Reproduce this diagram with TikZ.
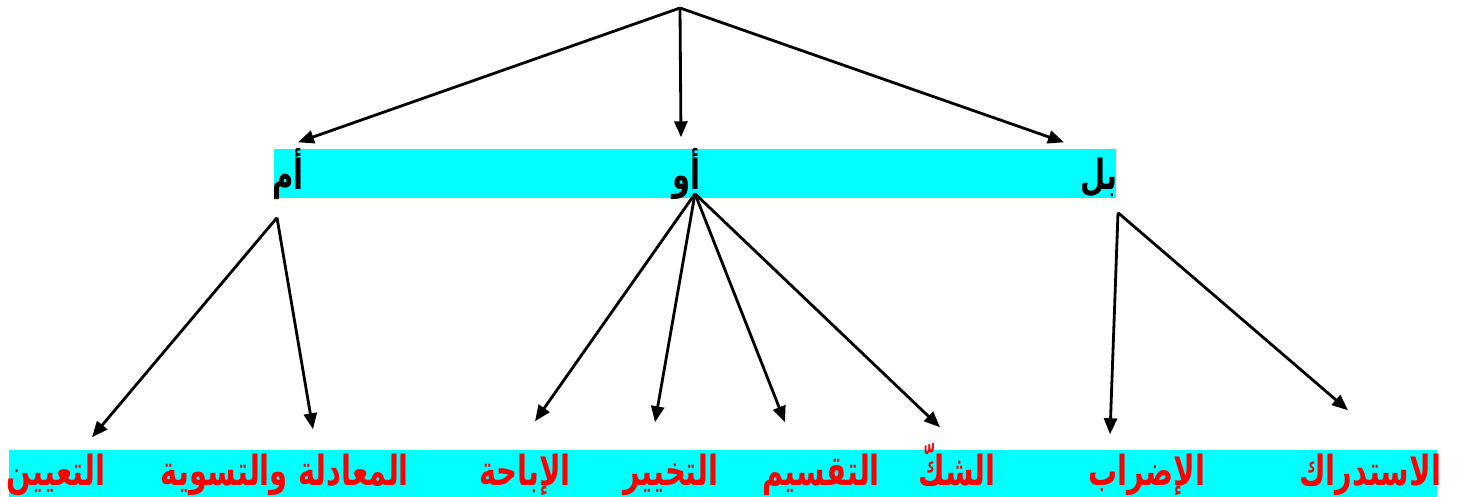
\documentclass[tikz,border=0pt]{standalone}
\usepackage{fontspec}
\newfontfamily\arabicfont[Script=Arabic, FakeStretch=0.70]{DejaVu Sans}
\TeXXeTstate=1
\usetikzlibrary{arrows.meta, positioning}
\definecolor{pita}{RGB}{0,255,255}
\definecolor{merah}{RGB}{255,0,0}

\begin{document}
\begin{tikzpicture}[
    bar/.style    = {fill=pita, draw=none},
    harf/.style   = {anchor=base, inner sep=0pt, text height=0.3cm, text depth=0.08cm, font=\arabicfont\bfseries\fontsize{11.8}{14}\selectfont, text=black},
    maana/.style  = {harf, text=merah},
    arrow/.style  = {line width=0.8pt, -{Triangle[length=1.6mm, width=1.3mm]}}
]
    \useasboundingbox (0,0) rectangle (14.57,4.97);

    % --- Pita Latar ---
    \fill [bar] (2.74,2.99) rectangle (11.16,3.48);
    \fill [bar] (0.09,0) rectangle (14.37,0.47);

    % --- Titik Puncak ---
    \coordinate (root) at (6.80,4.89);

    % --- Huruf Atas ---
    \node (am) [harf] at (2.88,3.07) {\beginR أم\endR};
    \node (aw) [harf] at (6.86,3.07) {\beginR أو\endR};
    \node (bal) [harf] at (10.99,3.07) {\beginR بل\endR};

    % --- Makna Bawah ---
    \node (taayin)   [maana] at (0.56,0.11)  {\beginR التعيين\endR};
    \node (muadala)  [maana] at (2.85,0.11)  {\beginR المعادلة والتسوية\endR};
    \node (ibaha)    [maana] at (5.25,0.11)  {\beginR الإباحة\endR};
    \node (takhyir)  [maana] at (6.71,0.11)  {\beginR التخيير\endR};
    \node (taqsim)   [maana] at (8.21,0.11)  {\beginR التقسيم\endR};
    \node (shakk)    [maana] at (9.57,0.11)  {\beginR الشكّ\endR};
    \node (idrab)    [maana] at (11.47,0.11) {\beginR الإضراب\endR};
    \node (istidrak) [maana] at (13.70,0.11) {\beginR الاستدراك\endR};

    % --- Titik Keluar Cabang ---
    \coordinate (am-out)  at ([shift={(-0.11,-0.19)}]am.south);
    \coordinate (aw-out)  at ([shift={(0.09,0.05)}]aw.south);
    \coordinate (bal-out) at ([shift={(0.19,-0.14)}]bal.south);

    % --- Panah dari Puncak ---
    \draw [arrow] (root) -- ([shift={(0.10,0.17)}]am.north);
    \draw [arrow] (root) -- ([shift={(-0.05,0.22)}]aw.north);
    \draw [arrow] (root) -- ([shift={(-0.35,0.17)}]bal.north);

    % --- Cabang أم ---
    \draw [arrow] (am-out) -- ([shift={(0.36,0.18)}]taayin.north);
    \draw [arrow] (am-out) -- ([shift={(0.28,0.26)}]muadala.north);

    % --- Cabang أو ---
    \draw [arrow] (aw-out) -- ([shift={(0.10,0.34)}]ibaha.north);
    \draw [arrow] (aw-out) -- ([shift={(-0.16,0.33)}]takhyir.north);
    \draw [arrow] (aw-out) -- ([shift={(-0.36,0.33)}]taqsim.north);
    \draw [arrow] (aw-out) -- ([shift={(-0.17,0.28)}]shakk.north);

    % --- Cabang بل ---
    \draw [arrow] (bal-out) -- ([shift={(-0.37,0.21)}]idrab.north);
    \draw [arrow] (bal-out) -- ([shift={(-0.22,0.45)}]istidrak.north);

\end{tikzpicture}
\end{document}
